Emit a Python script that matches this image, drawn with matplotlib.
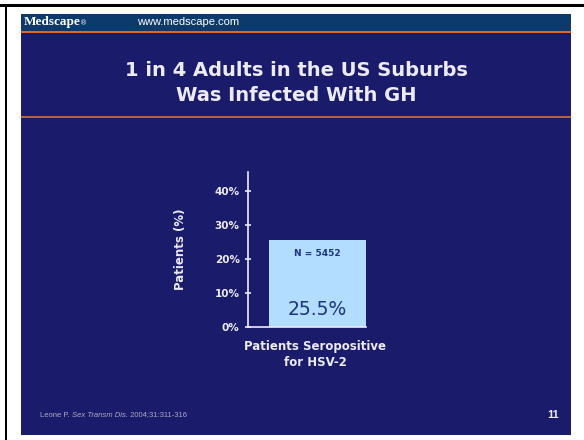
import matplotlib
matplotlib.use("Agg")
import matplotlib.pyplot as plt
from matplotlib.patches import Rectangle

categories = ["Patients Seropositive\nfor HSV-2"]
values = [25.5]
n_label = "N = 5452"
yticks = [0, 10, 20, 30, 40]
ytick_labels = ["0%", "10%", "20%", "30%", "40%"]
title = "1 in 4 Adults in the US Suburbs\nWas Infected With GH"
citation_parts = [("Leone P. ", "normal"), ("Sex Transm Dis.", "italic"), (" 2004;31:311-316", "normal")]
slide_number = "11"

W, H = 584, 440
fig = plt.figure(figsize=(W / 100, H / 100), dpi=100)
fig.patch.set_facecolor("white")

def px(x, y):
    return x / W, 1 - y / H

def rect(x0, y0, x1, y1, color, z=0):
    fig.patches.append(Rectangle((x0 / W, 1 - y1 / H), (x1 - x0) / W, (y1 - y0) / H,
                                 transform=fig.transFigure, facecolor=color,
                                 edgecolor="none", zorder=z))

# black frame (top and left)
rect(0, 4, W, 7, "black", 1)
rect(5, 4, 7, H, "black", 1)
# slide background
rect(21, 14, 571, 435, "#1b1b6b", 1)
# header band
rect(21, 14, 571, 31, "#0d3a6c", 2)
rect(21, 31, 571, 33, "#e2661e", 3)
# title separator
rect(21, 116, 571, 118, "#b8603c", 3)

txtc = "#ecebf3"
fig.text(*px(24, 22), "Medscape", color="white", fontsize=9.5, fontweight="bold",
         family="Liberation Serif", va="center", ha="left", zorder=5)
fig.text(*px(80, 23), "®", color="white", fontsize=5, va="center", ha="left", zorder=5)
fig.text(*px(137, 22), "www.medscape.com", color="white", fontsize=8,
         family="Liberation Sans", va="center", ha="left", zorder=5)

fig.text(*px(296, 83), title, color=txtc, fontsize=14, fontweight="bold", ha="center",
         va="center", linespacing=1.45, zorder=5)

# footer: draw parts one after another
renderer = fig.canvas.get_renderer()
xcur = 40
for part, style in citation_parts:
    t = fig.text(*px(xcur, 415), part, color="#a9a9c4", fontsize=5.5, style=style,
                 family="Liberation Sans", va="center", ha="left", zorder=5)
    bb = t.get_window_extent(renderer=renderer)
    xcur += bb.width
fig.text(*px(553, 415), slide_number, color=txtc, fontsize=8, fontweight="bold",
         family="Liberation Sans", va="center", ha="center", zorder=5)

# chart axes
ax_left, ax_right, ax_top, ax_bottom = 248, 366, 172, 327
ax = fig.add_axes([ax_left / W, 1 - ax_bottom / H, (ax_right - ax_left) / W,
                   (ax_bottom - ax_top) / H])
ax.set_facecolor("none")
ax.set_zorder(6)
ax.set_xlim(0, 1)
ax.set_ylim(0, 45.6)
bar_start = 21 / 118
ax.bar([bar_start], values, width=1 - bar_start, align="edge", color="#b3ddfe",
       edgecolor="none", zorder=2)
for s in ["top", "right"]:
    ax.spines[s].set_visible(False)
ax.spines["left"].set_color(txtc)
ax.spines["bottom"].set_color(txtc)
ax.spines["left"].set_linewidth(1.2)
ax.spines["bottom"].set_linewidth(1.2)
ax.set_yticks(yticks)
ax.set_yticklabels(ytick_labels)
ax.tick_params(axis="y", colors=txtc, length=4, width=1.2, direction="inout",
               labelsize=7.5, pad=4)
for lbl in ax.get_yticklabels():
    lbl.set_fontweight("bold")
ax.set_xticks([])
ax.set_ylabel("Patients (%)", color=txtc, fontsize=8.5, fontweight="bold", labelpad=20)

bar_center = bar_start + (1 - bar_start) / 2
ax.text(bar_center, values[0] - 4, n_label, color="#1d3480", fontsize=6.5,
        fontweight="bold", ha="center", va="center", zorder=3)
ax.text(bar_center, values[0] - 20.3, f"{values[0]}%", color="#1d3480", fontsize=13.5,
        ha="center", va="center", zorder=3)

fig.text(*px(315, 354), categories[0], color=txtc, fontsize=8.5, fontweight="bold",
         ha="center", va="center", linespacing=1.3, zorder=5)

fig.savefig("out.png", dpi=100, facecolor=fig.get_facecolor())
